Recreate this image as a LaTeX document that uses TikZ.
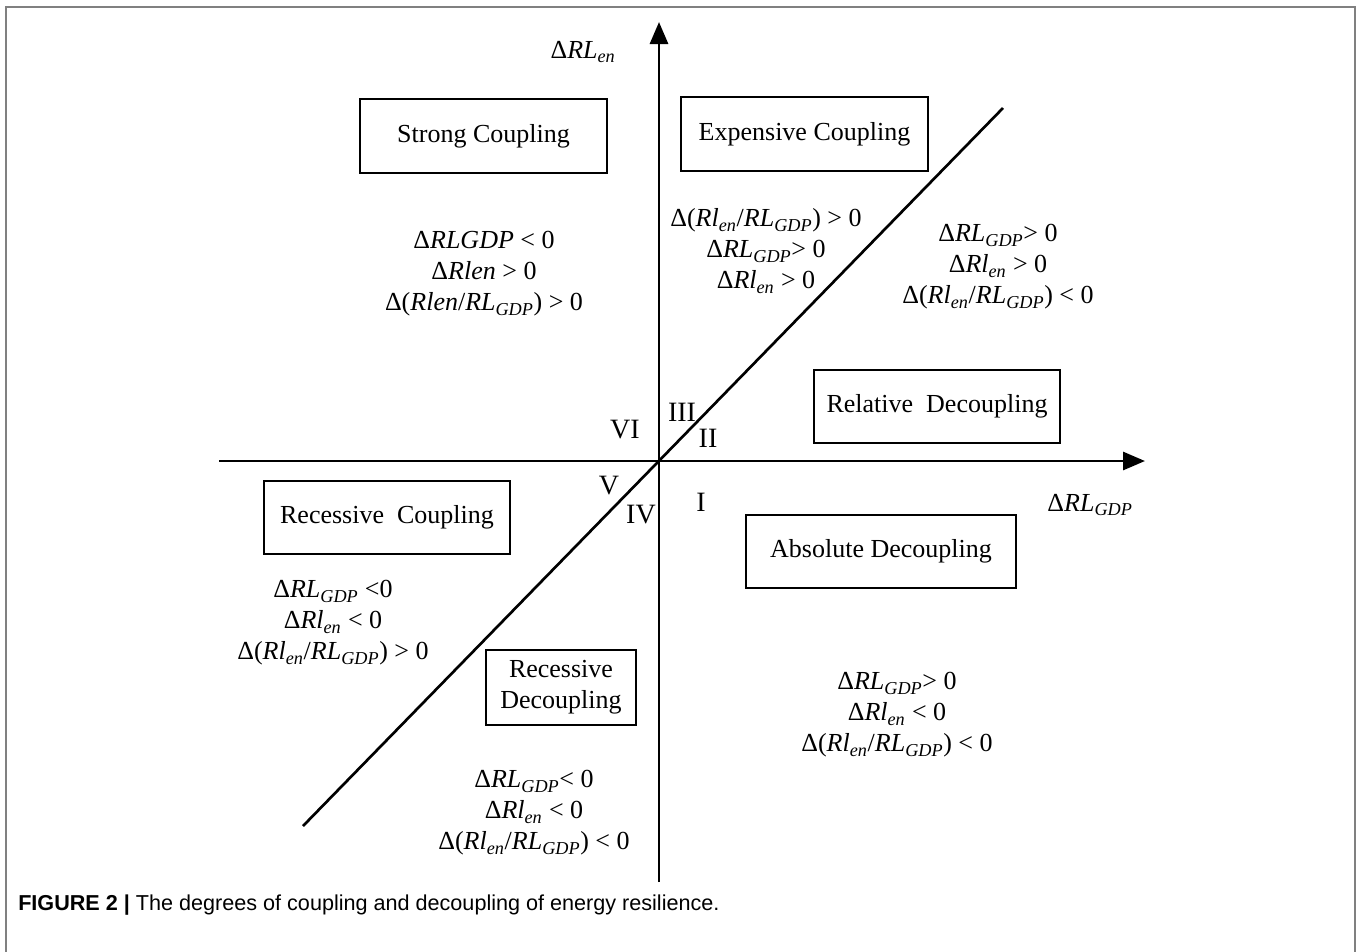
\documentclass[tikz,border=0pt]{standalone}
\usepackage{fontspec}
\setmainfont{Liberation Serif}
\newfontfamily\capfont{Liberation Sans}
\usetikzlibrary{arrows.meta}
\newcommand{\sbs}[1]{\textsubscript{\textit{#1}}}
\newcommand{\ital}[1]{\textit{#1}}
\begin{document}
\begin{tikzpicture}[x=0.75pt,y=-0.75pt,
  catbox/.style={draw, line width=1.5pt, inner sep=0pt, align=center,
    font=\fontsize{19.5}{23.5}\selectfont},
  cond/.style={align=center, inner sep=0pt, font=\fontsize{19.5}{23.25}\selectfont},
  axis/.style={line width=2.2pt},
  tip/.style={-{Triangle[length=16.5pt,width=13.5pt]}},
  roman/.style={inner sep=0pt, font=\fontsize{21}{21}\selectfont},
  axlabel/.style={inner sep=0pt, font=\fontsize{19.5}{23}\selectfont}]
\useasboundingbox (0,0) rectangle (1360,951);
% outer frame
\draw[line width=1.5pt, color=black!50] (6,960) -- (6,7) -- (1355,7) -- (1355,960);
% coordinates
\coordinate (O) at (659,461);
\coordinate (ytop) at (659,22);
\coordinate (ybot) at (659,882);
\coordinate (xl) at (219,461);
\coordinate (xr) at (1145,461);
\coordinate (dl) at (303,826);
\coordinate (dr) at (1003,108);
% axes
\draw[axis,tip] (ybot) -- (ytop);
\draw[axis,tip] (xl) -- (xr);
\draw[line width=2pt] (dl) -- (dr);
% axis labels
\node[axlabel] (ylab) at (583,52) {Δ\ital{RL}\sbs{en}};
\node[axlabel] (xlab) at (1090,505) {Δ\ital{RL}\sbs{GDP}};
% boxes
\node[catbox, minimum width=185.25pt, minimum height=55.5pt] (strong) at (483.5,136) {Strong Coupling};
\node[catbox, minimum width=185.25pt, minimum height=55.5pt] (expensive) at (804.5,134) {Expensive Coupling};
\node[catbox, minimum width=184.5pt, minimum height=54.75pt] (relative) at (937,406.5) {Relative\ \ Decoupling};
\node[catbox, minimum width=184.5pt, minimum height=54.75pt] (reccoup) at (387,517.5) {Recessive\ \ Coupling};
\node[catbox, minimum width=202.5pt, minimum height=54.75pt] (absolute) at (881,551.5) {Absolute Decoupling};
\node[catbox, minimum width=112.5pt, minimum height=56.25pt] (recdec) at (561,687.5) {Recessive\\Decoupling};
% conditions
\node[cond] (cstrong) at (484,274) {Δ\ital{RLGDP} {<} 0\\Δ\ital{Rlen} {>} 0\\Δ(\ital{Rlen}/\ital{RL}\sbs{GDP}) {>} 0};
\node[cond] (cexp) at (766,251) {Δ(\ital{Rl}\sbs{en}/\ital{RL}\sbs{GDP}) {>} 0\\Δ\ital{RL}\sbs{GDP}{>} 0\\Δ\ital{Rl}\sbs{en} {>} 0};
\node[cond] (crel) at (998,267) {Δ\ital{RL}\sbs{GDP}{>} 0\\Δ\ital{Rl}\sbs{en} {>} 0\\Δ(\ital{Rl}\sbs{en}/\ital{RL}\sbs{GDP}) {<} 0};
\node[cond] (creccoup) at (333,623) {Δ\ital{RL}\sbs{GDP} {<}0\\Δ\ital{Rl}\sbs{en} {<} 0\\Δ(\ital{Rl}\sbs{en}/\ital{RL}\sbs{GDP}) {>} 0};
\node[cond] (crecdec) at (534,813) {Δ\ital{RL}\sbs{GDP}{<} 0\\Δ\ital{Rl}\sbs{en} {<} 0\\Δ(\ital{Rl}\sbs{en}/\ital{RL}\sbs{GDP}) {<} 0};
\node[cond] (cabs) at (897,715) {Δ\ital{RL}\sbs{GDP}{>} 0\\Δ\ital{Rl}\sbs{en} {<} 0\\Δ(\ital{Rl}\sbs{en}/\ital{RL}\sbs{GDP}) {<} 0};
% region numerals
\node[roman] (rVI) at (625,430) {VI};
\node[roman] (rIII) at (682,412) {III};
\node[roman] (rII) at (708,438) {II};
\node[roman] (rV) at (609,486) {V};
\node[roman] (rIV) at (641,515) {IV};
\node[roman] (rI) at (701,502) {I};
% caption
\node[anchor=west, inner sep=0pt, font=\capfont\fontsize{16.2}{19}\selectfont] (caption) at (18,905)
  {\textbf{FIGURE 2 |} The degrees of coupling and decoupling of energy resilience.};
\end{tikzpicture}
\end{document}
